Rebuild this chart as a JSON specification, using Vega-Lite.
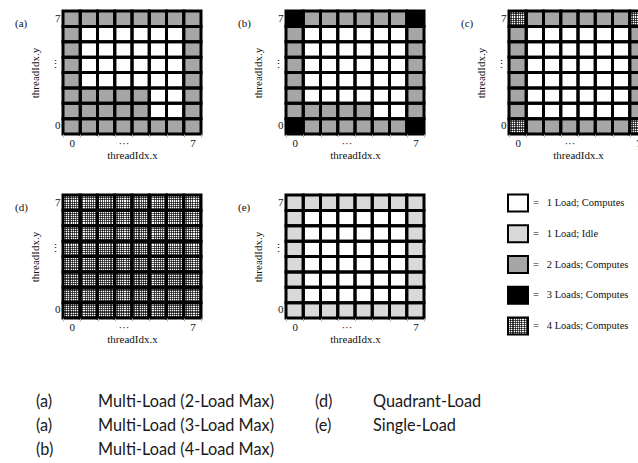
{
"$schema": "https://vega.github.io/schema/vega-lite/v6.json",
"autosize": {"type": "none"},
"padding": {"left": 63, "top": 11, "right": 575, "bottom": 452},
"background": "white",
"columns": 3,
"align": "none",
"bounds": "flush",
"spacing": {"row": 61, "column": 85},
"datasets": {
"cells": [
{"p":"a","x":0,"y":7,"t":"C"},{"p":"a","x":1,"y":7,"t":"C"},{"p":"a","x":2,"y":7,"t":"C"},{"p":"a","x":3,"y":7,"t":"C"},{"p":"a","x":4,"y":7,"t":"C"},{"p":"a","x":5,"y":7,"t":"C"},{"p":"a","x":6,"y":7,"t":"C"},{"p":"a","x":7,"y":7,"t":"C"},
{"p":"a","x":0,"y":6,"t":"C"},{"p":"a","x":1,"y":6,"t":"A"},{"p":"a","x":2,"y":6,"t":"A"},{"p":"a","x":3,"y":6,"t":"A"},{"p":"a","x":4,"y":6,"t":"A"},{"p":"a","x":5,"y":6,"t":"A"},{"p":"a","x":6,"y":6,"t":"A"},{"p":"a","x":7,"y":6,"t":"C"},
{"p":"a","x":0,"y":5,"t":"C"},{"p":"a","x":1,"y":5,"t":"A"},{"p":"a","x":2,"y":5,"t":"A"},{"p":"a","x":3,"y":5,"t":"A"},{"p":"a","x":4,"y":5,"t":"A"},{"p":"a","x":5,"y":5,"t":"A"},{"p":"a","x":6,"y":5,"t":"A"},{"p":"a","x":7,"y":5,"t":"C"},
{"p":"a","x":0,"y":4,"t":"C"},{"p":"a","x":1,"y":4,"t":"A"},{"p":"a","x":2,"y":4,"t":"A"},{"p":"a","x":3,"y":4,"t":"A"},{"p":"a","x":4,"y":4,"t":"A"},{"p":"a","x":5,"y":4,"t":"A"},{"p":"a","x":6,"y":4,"t":"A"},{"p":"a","x":7,"y":4,"t":"C"},
{"p":"a","x":0,"y":3,"t":"C"},{"p":"a","x":1,"y":3,"t":"A"},{"p":"a","x":2,"y":3,"t":"A"},{"p":"a","x":3,"y":3,"t":"A"},{"p":"a","x":4,"y":3,"t":"A"},{"p":"a","x":5,"y":3,"t":"A"},{"p":"a","x":6,"y":3,"t":"A"},{"p":"a","x":7,"y":3,"t":"C"},
{"p":"a","x":0,"y":2,"t":"C"},{"p":"a","x":1,"y":2,"t":"C"},{"p":"a","x":2,"y":2,"t":"C"},{"p":"a","x":3,"y":2,"t":"C"},{"p":"a","x":4,"y":2,"t":"C"},{"p":"a","x":5,"y":2,"t":"A"},{"p":"a","x":6,"y":2,"t":"A"},{"p":"a","x":7,"y":2,"t":"C"},
{"p":"a","x":0,"y":1,"t":"C"},{"p":"a","x":1,"y":1,"t":"C"},{"p":"a","x":2,"y":1,"t":"C"},{"p":"a","x":3,"y":1,"t":"C"},{"p":"a","x":4,"y":1,"t":"C"},{"p":"a","x":5,"y":1,"t":"A"},{"p":"a","x":6,"y":1,"t":"A"},{"p":"a","x":7,"y":1,"t":"C"},
{"p":"a","x":0,"y":0,"t":"C"},{"p":"a","x":1,"y":0,"t":"C"},{"p":"a","x":2,"y":0,"t":"C"},{"p":"a","x":3,"y":0,"t":"C"},{"p":"a","x":4,"y":0,"t":"C"},{"p":"a","x":5,"y":0,"t":"C"},{"p":"a","x":6,"y":0,"t":"C"},{"p":"a","x":7,"y":0,"t":"C"},

{"p":"b","x":0,"y":7,"t":"D"},{"p":"b","x":1,"y":7,"t":"C"},{"p":"b","x":2,"y":7,"t":"C"},{"p":"b","x":3,"y":7,"t":"C"},{"p":"b","x":4,"y":7,"t":"C"},{"p":"b","x":5,"y":7,"t":"C"},{"p":"b","x":6,"y":7,"t":"C"},{"p":"b","x":7,"y":7,"t":"D"},
{"p":"b","x":0,"y":6,"t":"C"},{"p":"b","x":1,"y":6,"t":"A"},{"p":"b","x":2,"y":6,"t":"A"},{"p":"b","x":3,"y":6,"t":"A"},{"p":"b","x":4,"y":6,"t":"A"},{"p":"b","x":5,"y":6,"t":"A"},{"p":"b","x":6,"y":6,"t":"A"},{"p":"b","x":7,"y":6,"t":"C"},
{"p":"b","x":0,"y":5,"t":"C"},{"p":"b","x":1,"y":5,"t":"A"},{"p":"b","x":2,"y":5,"t":"A"},{"p":"b","x":3,"y":5,"t":"A"},{"p":"b","x":4,"y":5,"t":"A"},{"p":"b","x":5,"y":5,"t":"A"},{"p":"b","x":6,"y":5,"t":"A"},{"p":"b","x":7,"y":5,"t":"C"},
{"p":"b","x":0,"y":4,"t":"C"},{"p":"b","x":1,"y":4,"t":"A"},{"p":"b","x":2,"y":4,"t":"A"},{"p":"b","x":3,"y":4,"t":"A"},{"p":"b","x":4,"y":4,"t":"A"},{"p":"b","x":5,"y":4,"t":"A"},{"p":"b","x":6,"y":4,"t":"A"},{"p":"b","x":7,"y":4,"t":"C"},
{"p":"b","x":0,"y":3,"t":"C"},{"p":"b","x":1,"y":3,"t":"A"},{"p":"b","x":2,"y":3,"t":"A"},{"p":"b","x":3,"y":3,"t":"A"},{"p":"b","x":4,"y":3,"t":"A"},{"p":"b","x":5,"y":3,"t":"A"},{"p":"b","x":6,"y":3,"t":"A"},{"p":"b","x":7,"y":3,"t":"C"},
{"p":"b","x":0,"y":2,"t":"C"},{"p":"b","x":1,"y":2,"t":"A"},{"p":"b","x":2,"y":2,"t":"A"},{"p":"b","x":3,"y":2,"t":"A"},{"p":"b","x":4,"y":2,"t":"A"},{"p":"b","x":5,"y":2,"t":"A"},{"p":"b","x":6,"y":2,"t":"A"},{"p":"b","x":7,"y":2,"t":"C"},
{"p":"b","x":0,"y":1,"t":"C"},{"p":"b","x":1,"y":1,"t":"C"},{"p":"b","x":2,"y":1,"t":"C"},{"p":"b","x":3,"y":1,"t":"C"},{"p":"b","x":4,"y":1,"t":"C"},{"p":"b","x":5,"y":1,"t":"A"},{"p":"b","x":6,"y":1,"t":"A"},{"p":"b","x":7,"y":1,"t":"C"},
{"p":"b","x":0,"y":0,"t":"D"},{"p":"b","x":1,"y":0,"t":"C"},{"p":"b","x":2,"y":0,"t":"C"},{"p":"b","x":3,"y":0,"t":"C"},{"p":"b","x":4,"y":0,"t":"C"},{"p":"b","x":5,"y":0,"t":"C"},{"p":"b","x":6,"y":0,"t":"C"},{"p":"b","x":7,"y":0,"t":"D"},

{"p":"c","x":0,"y":7,"t":"E"},{"p":"c","x":1,"y":7,"t":"C"},{"p":"c","x":2,"y":7,"t":"C"},{"p":"c","x":3,"y":7,"t":"C"},{"p":"c","x":4,"y":7,"t":"C"},{"p":"c","x":5,"y":7,"t":"C"},{"p":"c","x":6,"y":7,"t":"C"},{"p":"c","x":7,"y":7,"t":"E"},
{"p":"c","x":0,"y":6,"t":"C"},{"p":"c","x":1,"y":6,"t":"A"},{"p":"c","x":2,"y":6,"t":"A"},{"p":"c","x":3,"y":6,"t":"A"},{"p":"c","x":4,"y":6,"t":"A"},{"p":"c","x":5,"y":6,"t":"A"},{"p":"c","x":6,"y":6,"t":"A"},{"p":"c","x":7,"y":6,"t":"C"},
{"p":"c","x":0,"y":5,"t":"C"},{"p":"c","x":1,"y":5,"t":"A"},{"p":"c","x":2,"y":5,"t":"A"},{"p":"c","x":3,"y":5,"t":"A"},{"p":"c","x":4,"y":5,"t":"A"},{"p":"c","x":5,"y":5,"t":"A"},{"p":"c","x":6,"y":5,"t":"A"},{"p":"c","x":7,"y":5,"t":"C"},
{"p":"c","x":0,"y":4,"t":"C"},{"p":"c","x":1,"y":4,"t":"A"},{"p":"c","x":2,"y":4,"t":"A"},{"p":"c","x":3,"y":4,"t":"A"},{"p":"c","x":4,"y":4,"t":"A"},{"p":"c","x":5,"y":4,"t":"A"},{"p":"c","x":6,"y":4,"t":"A"},{"p":"c","x":7,"y":4,"t":"C"},
{"p":"c","x":0,"y":3,"t":"C"},{"p":"c","x":1,"y":3,"t":"A"},{"p":"c","x":2,"y":3,"t":"A"},{"p":"c","x":3,"y":3,"t":"A"},{"p":"c","x":4,"y":3,"t":"A"},{"p":"c","x":5,"y":3,"t":"A"},{"p":"c","x":6,"y":3,"t":"A"},{"p":"c","x":7,"y":3,"t":"C"},
{"p":"c","x":0,"y":2,"t":"C"},{"p":"c","x":1,"y":2,"t":"A"},{"p":"c","x":2,"y":2,"t":"A"},{"p":"c","x":3,"y":2,"t":"A"},{"p":"c","x":4,"y":2,"t":"A"},{"p":"c","x":5,"y":2,"t":"A"},{"p":"c","x":6,"y":2,"t":"A"},{"p":"c","x":7,"y":2,"t":"C"},
{"p":"c","x":0,"y":1,"t":"C"},{"p":"c","x":1,"y":1,"t":"A"},{"p":"c","x":2,"y":1,"t":"A"},{"p":"c","x":3,"y":1,"t":"A"},{"p":"c","x":4,"y":1,"t":"A"},{"p":"c","x":5,"y":1,"t":"A"},{"p":"c","x":6,"y":1,"t":"A"},{"p":"c","x":7,"y":1,"t":"C"},
{"p":"c","x":0,"y":0,"t":"E"},{"p":"c","x":1,"y":0,"t":"C"},{"p":"c","x":2,"y":0,"t":"C"},{"p":"c","x":3,"y":0,"t":"C"},{"p":"c","x":4,"y":0,"t":"C"},{"p":"c","x":5,"y":0,"t":"C"},{"p":"c","x":6,"y":0,"t":"C"},{"p":"c","x":7,"y":0,"t":"E"},

{"p":"d","x":0,"y":7,"t":"E"},{"p":"d","x":1,"y":7,"t":"E"},{"p":"d","x":2,"y":7,"t":"E"},{"p":"d","x":3,"y":7,"t":"E"},{"p":"d","x":4,"y":7,"t":"E"},{"p":"d","x":5,"y":7,"t":"E"},{"p":"d","x":6,"y":7,"t":"E"},{"p":"d","x":7,"y":7,"t":"E"},
{"p":"d","x":0,"y":6,"t":"E"},{"p":"d","x":1,"y":6,"t":"E"},{"p":"d","x":2,"y":6,"t":"E"},{"p":"d","x":3,"y":6,"t":"E"},{"p":"d","x":4,"y":6,"t":"E"},{"p":"d","x":5,"y":6,"t":"E"},{"p":"d","x":6,"y":6,"t":"E"},{"p":"d","x":7,"y":6,"t":"E"},
{"p":"d","x":0,"y":5,"t":"E"},{"p":"d","x":1,"y":5,"t":"E"},{"p":"d","x":2,"y":5,"t":"E"},{"p":"d","x":3,"y":5,"t":"E"},{"p":"d","x":4,"y":5,"t":"E"},{"p":"d","x":5,"y":5,"t":"E"},{"p":"d","x":6,"y":5,"t":"E"},{"p":"d","x":7,"y":5,"t":"E"},
{"p":"d","x":0,"y":4,"t":"E"},{"p":"d","x":1,"y":4,"t":"E"},{"p":"d","x":2,"y":4,"t":"E"},{"p":"d","x":3,"y":4,"t":"E"},{"p":"d","x":4,"y":4,"t":"E"},{"p":"d","x":5,"y":4,"t":"E"},{"p":"d","x":6,"y":4,"t":"E"},{"p":"d","x":7,"y":4,"t":"E"},
{"p":"d","x":0,"y":3,"t":"E"},{"p":"d","x":1,"y":3,"t":"E"},{"p":"d","x":2,"y":3,"t":"E"},{"p":"d","x":3,"y":3,"t":"E"},{"p":"d","x":4,"y":3,"t":"E"},{"p":"d","x":5,"y":3,"t":"E"},{"p":"d","x":6,"y":3,"t":"E"},{"p":"d","x":7,"y":3,"t":"E"},
{"p":"d","x":0,"y":2,"t":"E"},{"p":"d","x":1,"y":2,"t":"E"},{"p":"d","x":2,"y":2,"t":"E"},{"p":"d","x":3,"y":2,"t":"E"},{"p":"d","x":4,"y":2,"t":"E"},{"p":"d","x":5,"y":2,"t":"E"},{"p":"d","x":6,"y":2,"t":"E"},{"p":"d","x":7,"y":2,"t":"E"},
{"p":"d","x":0,"y":1,"t":"E"},{"p":"d","x":1,"y":1,"t":"E"},{"p":"d","x":2,"y":1,"t":"E"},{"p":"d","x":3,"y":1,"t":"E"},{"p":"d","x":4,"y":1,"t":"E"},{"p":"d","x":5,"y":1,"t":"E"},{"p":"d","x":6,"y":1,"t":"E"},{"p":"d","x":7,"y":1,"t":"E"},
{"p":"d","x":0,"y":0,"t":"E"},{"p":"d","x":1,"y":0,"t":"E"},{"p":"d","x":2,"y":0,"t":"E"},{"p":"d","x":3,"y":0,"t":"E"},{"p":"d","x":4,"y":0,"t":"E"},{"p":"d","x":5,"y":0,"t":"E"},{"p":"d","x":6,"y":0,"t":"E"},{"p":"d","x":7,"y":0,"t":"E"},

{"p":"e","x":0,"y":7,"t":"B"},{"p":"e","x":1,"y":7,"t":"B"},{"p":"e","x":2,"y":7,"t":"B"},{"p":"e","x":3,"y":7,"t":"B"},{"p":"e","x":4,"y":7,"t":"B"},{"p":"e","x":5,"y":7,"t":"B"},{"p":"e","x":6,"y":7,"t":"B"},{"p":"e","x":7,"y":7,"t":"B"},
{"p":"e","x":0,"y":6,"t":"B"},{"p":"e","x":1,"y":6,"t":"A"},{"p":"e","x":2,"y":6,"t":"A"},{"p":"e","x":3,"y":6,"t":"A"},{"p":"e","x":4,"y":6,"t":"A"},{"p":"e","x":5,"y":6,"t":"A"},{"p":"e","x":6,"y":6,"t":"A"},{"p":"e","x":7,"y":6,"t":"B"},
{"p":"e","x":0,"y":5,"t":"B"},{"p":"e","x":1,"y":5,"t":"A"},{"p":"e","x":2,"y":5,"t":"A"},{"p":"e","x":3,"y":5,"t":"A"},{"p":"e","x":4,"y":5,"t":"A"},{"p":"e","x":5,"y":5,"t":"A"},{"p":"e","x":6,"y":5,"t":"A"},{"p":"e","x":7,"y":5,"t":"B"},
{"p":"e","x":0,"y":4,"t":"B"},{"p":"e","x":1,"y":4,"t":"A"},{"p":"e","x":2,"y":4,"t":"A"},{"p":"e","x":3,"y":4,"t":"A"},{"p":"e","x":4,"y":4,"t":"A"},{"p":"e","x":5,"y":4,"t":"A"},{"p":"e","x":6,"y":4,"t":"A"},{"p":"e","x":7,"y":4,"t":"B"},
{"p":"e","x":0,"y":3,"t":"B"},{"p":"e","x":1,"y":3,"t":"A"},{"p":"e","x":2,"y":3,"t":"A"},{"p":"e","x":3,"y":3,"t":"A"},{"p":"e","x":4,"y":3,"t":"A"},{"p":"e","x":5,"y":3,"t":"A"},{"p":"e","x":6,"y":3,"t":"A"},{"p":"e","x":7,"y":3,"t":"B"},
{"p":"e","x":0,"y":2,"t":"B"},{"p":"e","x":1,"y":2,"t":"A"},{"p":"e","x":2,"y":2,"t":"A"},{"p":"e","x":3,"y":2,"t":"A"},{"p":"e","x":4,"y":2,"t":"A"},{"p":"e","x":5,"y":2,"t":"A"},{"p":"e","x":6,"y":2,"t":"A"},{"p":"e","x":7,"y":2,"t":"B"},
{"p":"e","x":0,"y":1,"t":"B"},{"p":"e","x":1,"y":1,"t":"A"},{"p":"e","x":2,"y":1,"t":"A"},{"p":"e","x":3,"y":1,"t":"A"},{"p":"e","x":4,"y":1,"t":"A"},{"p":"e","x":5,"y":1,"t":"A"},{"p":"e","x":6,"y":1,"t":"A"},{"p":"e","x":7,"y":1,"t":"B"},
{"p":"e","x":0,"y":0,"t":"B"},{"p":"e","x":1,"y":0,"t":"B"},{"p":"e","x":2,"y":0,"t":"B"},{"p":"e","x":3,"y":0,"t":"B"},{"p":"e","x":4,"y":0,"t":"B"},{"p":"e","x":5,"y":0,"t":"B"},{"p":"e","x":6,"y":0,"t":"B"},{"p":"e","x":7,"y":0,"t":"B"}
],
"legend": [
{"k":1,"t":"A","label":"=\u00a0\u00a0\u00a01 Load; Computes"},
{"k":2,"t":"B","label":"=\u00a0\u00a0\u00a01 Load; Idle"},
{"k":3,"t":"C","label":"=\u00a0\u00a0\u00a02 Loads; Computes"},
{"k":4,"t":"D","label":"=\u00a0\u00a0\u00a03 Loads; Computes"},
{"k":5,"t":"E","label":"=\u00a0\u00a0\u00a04 Loads; Computes"}
],
"caption": [
{"side":"L","line":1,"tag":"(a)","desc":"Multi-Load (2-Load Max)"},
{"side":"L","line":2,"tag":"(a)","desc":"Multi-Load (3-Load Max)"},
{"side":"L","line":3,"tag":"(b)","desc":"Multi-Load (4-Load Max)"},
{"side":"R","line":1,"tag":"(d)","desc":"Quadrant-Load"},
{"side":"R","line":2,"tag":"(e)","desc":"Single-Load"}
]
},
"concat": [
{
"data": {"name": "cells"}, "width": 138, "height": 123,
"title": {"text": "(a)"},
"transform": [{"filter": "datum.p == 'a'"}],
"encoding": {
"x": {"field": "x", "type": "ordinal", "scale": {"paddingInner": 0, "paddingOuter": 0}, "axis": {"title": "threadIdx.x", "labelAngle": 0, "labelExpr": "datum.value == 0 ? '0' : datum.value == 7 ? '7' : datum.value == 3 ? '···' : ''", "tickBand": "extent", "tickSize": 3, "tickColor": "#b5b5b5", "domain": false, "labelPadding": 0, "titlePadding": 1, "encode": {"labels": {"update": {"dx": {"signal": "datum.value == 3 ? 8.6 : 0"}}}}}},
"y": {"field": "y", "type": "ordinal", "sort": "descending", "scale": {"paddingInner": 0, "paddingOuter": 0}, "axis": {"title": "threadIdx.y", "labelExpr": "datum.value == 0 ? '0' : datum.value == 7 ? '7' : datum.value == 4 ? '⋮' : ''", "ticks": false, "tickSize": 0, "domain": false, "labelPadding": 3, "titlePadding": 9, "encode": {"labels": {"update": {"dy": {"signal": "datum.value == 4 ? 7.7 : 0"}}}}}}
},
"layer": [
{"mark": {"type": "rect"}, "encoding": {"fill": {"field": "t", "type": "nominal", "scale": {"domain": ["A","B","C","D","E"], "range": ["#ffffff","#d9d9d9","#a6a6a6","#000000","#ffffff"]}, "legend": null}}},
{"mark": {"type": "rect", "fillOpacity": 0, "stroke": "#000", "strokeWidth": 3}}
]
},
{
"data": {"name": "cells"}, "width": 138, "height": 123,
"title": {"text": "(b)"},
"transform": [{"filter": "datum.p == 'b'"}],
"encoding": {
"x": {"field": "x", "type": "ordinal", "scale": {"paddingInner": 0, "paddingOuter": 0}, "axis": {"title": "threadIdx.x", "labelAngle": 0, "labelExpr": "datum.value == 0 ? '0' : datum.value == 7 ? '7' : datum.value == 3 ? '···' : ''", "tickBand": "extent", "tickSize": 3, "tickColor": "#b5b5b5", "domain": false, "labelPadding": 0, "titlePadding": 1, "encode": {"labels": {"update": {"dx": {"signal": "datum.value == 3 ? 8.6 : 0"}}}}}},
"y": {"field": "y", "type": "ordinal", "sort": "descending", "scale": {"paddingInner": 0, "paddingOuter": 0}, "axis": {"title": "threadIdx.y", "labelExpr": "datum.value == 0 ? '0' : datum.value == 7 ? '7' : datum.value == 4 ? '⋮' : ''", "ticks": false, "tickSize": 0, "domain": false, "labelPadding": 3, "titlePadding": 9, "encode": {"labels": {"update": {"dy": {"signal": "datum.value == 4 ? 7.7 : 0"}}}}}}
},
"layer": [
{"mark": {"type": "rect"}, "encoding": {"fill": {"field": "t", "type": "nominal", "scale": {"domain": ["A","B","C","D","E"], "range": ["#ffffff","#d9d9d9","#a6a6a6","#000000","#ffffff"]}, "legend": null}}},
{"mark": {"type": "rect", "fillOpacity": 0, "stroke": "#000", "strokeWidth": 3}}
]
},
{
"data": {"name": "cells"}, "width": 138, "height": 123,
"title": {"text": "(c)"},
"transform": [{"filter": "datum.p == 'c'"}],
"encoding": {
"x": {"field": "x", "type": "ordinal", "scale": {"paddingInner": 0, "paddingOuter": 0}, "axis": {"title": "threadIdx.x", "labelAngle": 0, "labelExpr": "datum.value == 0 ? '0' : datum.value == 7 ? '7' : datum.value == 3 ? '···' : ''", "tickBand": "extent", "tickSize": 3, "tickColor": "#b5b5b5", "domain": false, "labelPadding": 0, "titlePadding": 1, "encode": {"labels": {"update": {"dx": {"signal": "datum.value == 3 ? 8.6 : 0"}}}}}},
"y": {"field": "y", "type": "ordinal", "sort": "descending", "scale": {"paddingInner": 0, "paddingOuter": 0}, "axis": {"title": "threadIdx.y", "labelExpr": "datum.value == 0 ? '0' : datum.value == 7 ? '7' : datum.value == 4 ? '⋮' : ''", "ticks": false, "tickSize": 0, "domain": false, "labelPadding": 3, "titlePadding": 9, "encode": {"labels": {"update": {"dy": {"signal": "datum.value == 4 ? 7.7 : 0"}}}}}}
},
"layer": [
{"mark": {"type": "rect"}, "encoding": {"fill": {"field": "t", "type": "nominal", "scale": {"domain": ["A","B","C","D","E"], "range": ["#ffffff","#d9d9d9","#a6a6a6","#000000","#ffffff"]}, "legend": null}}},
{"transform": [{"filter": "datum.t == 'E'"}], "mark": {"type": "rect", "fill": {"gradient": "linear", "x1": 0, "x2": 0, "y1": 0, "y2": 1, "stops": [{"offset":0,"color":"rgba(0,0,0,0.65)"},{"offset":0.0714,"color":"rgba(0,0,0,0.65)"},{"offset":0.0714,"color":"rgba(0,0,0,0)"},{"offset":0.1429,"color":"rgba(0,0,0,0)"},{"offset":0.1429,"color":"rgba(0,0,0,0.65)"},{"offset":0.2143,"color":"rgba(0,0,0,0.65)"},{"offset":0.2143,"color":"rgba(0,0,0,0)"},{"offset":0.2857,"color":"rgba(0,0,0,0)"},{"offset":0.2857,"color":"rgba(0,0,0,0.65)"},{"offset":0.3571,"color":"rgba(0,0,0,0.65)"},{"offset":0.3571,"color":"rgba(0,0,0,0)"},{"offset":0.4286,"color":"rgba(0,0,0,0)"},{"offset":0.4286,"color":"rgba(0,0,0,0.65)"},{"offset":0.5,"color":"rgba(0,0,0,0.65)"},{"offset":0.5,"color":"rgba(0,0,0,0)"},{"offset":0.5714,"color":"rgba(0,0,0,0)"},{"offset":0.5714,"color":"rgba(0,0,0,0.65)"},{"offset":0.6429,"color":"rgba(0,0,0,0.65)"},{"offset":0.6429,"color":"rgba(0,0,0,0)"},{"offset":0.7143,"color":"rgba(0,0,0,0)"},{"offset":0.7143,"color":"rgba(0,0,0,0.65)"},{"offset":0.7857,"color":"rgba(0,0,0,0.65)"},{"offset":0.7857,"color":"rgba(0,0,0,0)"},{"offset":0.8571,"color":"rgba(0,0,0,0)"},{"offset":0.8571,"color":"rgba(0,0,0,0.65)"},{"offset":0.9286,"color":"rgba(0,0,0,0.65)"},{"offset":0.9286,"color":"rgba(0,0,0,0)"},{"offset":1,"color":"rgba(0,0,0,0)"}]}}},
{"transform": [{"filter": "datum.t == 'E'"}], "mark": {"type": "rect", "fill": {"gradient": "linear", "x1": 0, "x2": 1, "y1": 0, "y2": 0, "stops": [{"offset":0,"color":"rgba(0,0,0,0.65)"},{"offset":0.0625,"color":"rgba(0,0,0,0.65)"},{"offset":0.0625,"color":"rgba(0,0,0,0)"},{"offset":0.125,"color":"rgba(0,0,0,0)"},{"offset":0.125,"color":"rgba(0,0,0,0.65)"},{"offset":0.1875,"color":"rgba(0,0,0,0.65)"},{"offset":0.1875,"color":"rgba(0,0,0,0)"},{"offset":0.25,"color":"rgba(0,0,0,0)"},{"offset":0.25,"color":"rgba(0,0,0,0.65)"},{"offset":0.3125,"color":"rgba(0,0,0,0.65)"},{"offset":0.3125,"color":"rgba(0,0,0,0)"},{"offset":0.375,"color":"rgba(0,0,0,0)"},{"offset":0.375,"color":"rgba(0,0,0,0.65)"},{"offset":0.4375,"color":"rgba(0,0,0,0.65)"},{"offset":0.4375,"color":"rgba(0,0,0,0)"},{"offset":0.5,"color":"rgba(0,0,0,0)"},{"offset":0.5,"color":"rgba(0,0,0,0.65)"},{"offset":0.5625,"color":"rgba(0,0,0,0.65)"},{"offset":0.5625,"color":"rgba(0,0,0,0)"},{"offset":0.625,"color":"rgba(0,0,0,0)"},{"offset":0.625,"color":"rgba(0,0,0,0.65)"},{"offset":0.6875,"color":"rgba(0,0,0,0.65)"},{"offset":0.6875,"color":"rgba(0,0,0,0)"},{"offset":0.75,"color":"rgba(0,0,0,0)"},{"offset":0.75,"color":"rgba(0,0,0,0.65)"},{"offset":0.8125,"color":"rgba(0,0,0,0.65)"},{"offset":0.8125,"color":"rgba(0,0,0,0)"},{"offset":0.875,"color":"rgba(0,0,0,0)"},{"offset":0.875,"color":"rgba(0,0,0,0.65)"},{"offset":0.9375,"color":"rgba(0,0,0,0.65)"},{"offset":0.9375,"color":"rgba(0,0,0,0)"},{"offset":1,"color":"rgba(0,0,0,0)"}]}}},
{"mark": {"type": "rect", "fillOpacity": 0, "stroke": "#000", "strokeWidth": 3}}
]
},
{
"data": {"name": "cells"}, "width": 138, "height": 123,
"title": {"text": "(d)"},
"transform": [{"filter": "datum.p == 'd'"}],
"encoding": {
"x": {"field": "x", "type": "ordinal", "scale": {"paddingInner": 0, "paddingOuter": 0}, "axis": {"title": "threadIdx.x", "labelAngle": 0, "labelExpr": "datum.value == 0 ? '0' : datum.value == 7 ? '7' : datum.value == 3 ? '···' : ''", "tickBand": "extent", "tickSize": 3, "tickColor": "#b5b5b5", "domain": false, "labelPadding": 0, "titlePadding": 1, "encode": {"labels": {"update": {"dx": {"signal": "datum.value == 3 ? 8.6 : 0"}}}}}},
"y": {"field": "y", "type": "ordinal", "sort": "descending", "scale": {"paddingInner": 0, "paddingOuter": 0}, "axis": {"title": "threadIdx.y", "labelExpr": "datum.value == 0 ? '0' : datum.value == 7 ? '7' : datum.value == 4 ? '⋮' : ''", "ticks": false, "tickSize": 0, "domain": false, "labelPadding": 3, "titlePadding": 9, "encode": {"labels": {"update": {"dy": {"signal": "datum.value == 4 ? 7.7 : 0"}}}}}}
},
"layer": [
{"mark": {"type": "rect"}, "encoding": {"fill": {"field": "t", "type": "nominal", "scale": {"domain": ["A","B","C","D","E"], "range": ["#ffffff","#d9d9d9","#a6a6a6","#000000","#ffffff"]}, "legend": null}}},
{"transform": [{"filter": "datum.t == 'E'"}], "mark": {"type": "rect", "fill": {"gradient": "linear", "x1": 0, "x2": 0, "y1": 0, "y2": 1, "stops": [{"offset":0,"color":"rgba(0,0,0,0.65)"},{"offset":0.0714,"color":"rgba(0,0,0,0.65)"},{"offset":0.0714,"color":"rgba(0,0,0,0)"},{"offset":0.1429,"color":"rgba(0,0,0,0)"},{"offset":0.1429,"color":"rgba(0,0,0,0.65)"},{"offset":0.2143,"color":"rgba(0,0,0,0.65)"},{"offset":0.2143,"color":"rgba(0,0,0,0)"},{"offset":0.2857,"color":"rgba(0,0,0,0)"},{"offset":0.2857,"color":"rgba(0,0,0,0.65)"},{"offset":0.3571,"color":"rgba(0,0,0,0.65)"},{"offset":0.3571,"color":"rgba(0,0,0,0)"},{"offset":0.4286,"color":"rgba(0,0,0,0)"},{"offset":0.4286,"color":"rgba(0,0,0,0.65)"},{"offset":0.5,"color":"rgba(0,0,0,0.65)"},{"offset":0.5,"color":"rgba(0,0,0,0)"},{"offset":0.5714,"color":"rgba(0,0,0,0)"},{"offset":0.5714,"color":"rgba(0,0,0,0.65)"},{"offset":0.6429,"color":"rgba(0,0,0,0.65)"},{"offset":0.6429,"color":"rgba(0,0,0,0)"},{"offset":0.7143,"color":"rgba(0,0,0,0)"},{"offset":0.7143,"color":"rgba(0,0,0,0.65)"},{"offset":0.7857,"color":"rgba(0,0,0,0.65)"},{"offset":0.7857,"color":"rgba(0,0,0,0)"},{"offset":0.8571,"color":"rgba(0,0,0,0)"},{"offset":0.8571,"color":"rgba(0,0,0,0.65)"},{"offset":0.9286,"color":"rgba(0,0,0,0.65)"},{"offset":0.9286,"color":"rgba(0,0,0,0)"},{"offset":1,"color":"rgba(0,0,0,0)"}]}}},
{"transform": [{"filter": "datum.t == 'E'"}], "mark": {"type": "rect", "fill": {"gradient": "linear", "x1": 0, "x2": 1, "y1": 0, "y2": 0, "stops": [{"offset":0,"color":"rgba(0,0,0,0.65)"},{"offset":0.0625,"color":"rgba(0,0,0,0.65)"},{"offset":0.0625,"color":"rgba(0,0,0,0)"},{"offset":0.125,"color":"rgba(0,0,0,0)"},{"offset":0.125,"color":"rgba(0,0,0,0.65)"},{"offset":0.1875,"color":"rgba(0,0,0,0.65)"},{"offset":0.1875,"color":"rgba(0,0,0,0)"},{"offset":0.25,"color":"rgba(0,0,0,0)"},{"offset":0.25,"color":"rgba(0,0,0,0.65)"},{"offset":0.3125,"color":"rgba(0,0,0,0.65)"},{"offset":0.3125,"color":"rgba(0,0,0,0)"},{"offset":0.375,"color":"rgba(0,0,0,0)"},{"offset":0.375,"color":"rgba(0,0,0,0.65)"},{"offset":0.4375,"color":"rgba(0,0,0,0.65)"},{"offset":0.4375,"color":"rgba(0,0,0,0)"},{"offset":0.5,"color":"rgba(0,0,0,0)"},{"offset":0.5,"color":"rgba(0,0,0,0.65)"},{"offset":0.5625,"color":"rgba(0,0,0,0.65)"},{"offset":0.5625,"color":"rgba(0,0,0,0)"},{"offset":0.625,"color":"rgba(0,0,0,0)"},{"offset":0.625,"color":"rgba(0,0,0,0.65)"},{"offset":0.6875,"color":"rgba(0,0,0,0.65)"},{"offset":0.6875,"color":"rgba(0,0,0,0)"},{"offset":0.75,"color":"rgba(0,0,0,0)"},{"offset":0.75,"color":"rgba(0,0,0,0.65)"},{"offset":0.8125,"color":"rgba(0,0,0,0.65)"},{"offset":0.8125,"color":"rgba(0,0,0,0)"},{"offset":0.875,"color":"rgba(0,0,0,0)"},{"offset":0.875,"color":"rgba(0,0,0,0.65)"},{"offset":0.9375,"color":"rgba(0,0,0,0.65)"},{"offset":0.9375,"color":"rgba(0,0,0,0)"},{"offset":1,"color":"rgba(0,0,0,0)"}]}}},
{"mark": {"type": "rect", "fillOpacity": 0, "stroke": "#000", "strokeWidth": 3}}
]
},
{
"data": {"name": "cells"}, "width": 138, "height": 123,
"title": {"text": "(e)"},
"transform": [{"filter": "datum.p == 'e'"}],
"encoding": {
"x": {"field": "x", "type": "ordinal", "scale": {"paddingInner": 0, "paddingOuter": 0}, "axis": {"title": "threadIdx.x", "labelAngle": 0, "labelExpr": "datum.value == 0 ? '0' : datum.value == 7 ? '7' : datum.value == 3 ? '···' : ''", "tickBand": "extent", "tickSize": 3, "tickColor": "#b5b5b5", "domain": false, "labelPadding": 0, "titlePadding": 1, "encode": {"labels": {"update": {"dx": {"signal": "datum.value == 3 ? 8.6 : 0"}}}}}},
"y": {"field": "y", "type": "ordinal", "sort": "descending", "scale": {"paddingInner": 0, "paddingOuter": 0}, "axis": {"title": "threadIdx.y", "labelExpr": "datum.value == 0 ? '0' : datum.value == 7 ? '7' : datum.value == 4 ? '⋮' : ''", "ticks": false, "tickSize": 0, "domain": false, "labelPadding": 3, "titlePadding": 9, "encode": {"labels": {"update": {"dy": {"signal": "datum.value == 4 ? 7.7 : 0"}}}}}}
},
"layer": [
{"mark": {"type": "rect"}, "encoding": {"fill": {"field": "t", "type": "nominal", "scale": {"domain": ["A","B","C","D","E"], "range": ["#ffffff","#d9d9d9","#a6a6a6","#000000","#ffffff"]}, "legend": null}}},
{"mark": {"type": "rect", "fillOpacity": 0, "stroke": "#000", "strokeWidth": 3}}
]
},
{
"data": {"name": "legend"}, "width": 18, "height": 139,
"encoding": {"y": {"field": "k", "type": "ordinal", "scale": {"type": "point", "padding": 0.26}, "axis": null}},
"layer": [
{"mark": {"type": "point", "shape": "M-1,-0.85H1V0.85H-1Z", "size": 400, "filled": true, "opacity": 1, "strokeWidth": 0}, "encoding": {"fill": {"field": "t", "type": "nominal", "scale": {"domain": ["A","B","C","D","E"], "range": ["#ffffff","#d9d9d9","#a6a6a6","#000000","#ffffff"]}, "legend": null}}},
{"transform": [{"filter": "datum.t == 'E'"}], "mark": {"type": "point", "shape": "M-1,-0.85H1V0.85H-1Z", "size": 400, "filled": true, "opacity": 1, "strokeWidth": 0, "fill": {"gradient": "linear", "x1": 0, "x2": 0, "y1": 0, "y2": 1, "stops": [{"offset":0,"color":"rgba(0,0,0,0.65)"},{"offset":0.0625,"color":"rgba(0,0,0,0.65)"},{"offset":0.0625,"color":"rgba(0,0,0,0)"},{"offset":0.125,"color":"rgba(0,0,0,0)"},{"offset":0.125,"color":"rgba(0,0,0,0.65)"},{"offset":0.1875,"color":"rgba(0,0,0,0.65)"},{"offset":0.1875,"color":"rgba(0,0,0,0)"},{"offset":0.25,"color":"rgba(0,0,0,0)"},{"offset":0.25,"color":"rgba(0,0,0,0.65)"},{"offset":0.3125,"color":"rgba(0,0,0,0.65)"},{"offset":0.3125,"color":"rgba(0,0,0,0)"},{"offset":0.375,"color":"rgba(0,0,0,0)"},{"offset":0.375,"color":"rgba(0,0,0,0.65)"},{"offset":0.4375,"color":"rgba(0,0,0,0.65)"},{"offset":0.4375,"color":"rgba(0,0,0,0)"},{"offset":0.5,"color":"rgba(0,0,0,0)"},{"offset":0.5,"color":"rgba(0,0,0,0.65)"},{"offset":0.5625,"color":"rgba(0,0,0,0.65)"},{"offset":0.5625,"color":"rgba(0,0,0,0)"},{"offset":0.625,"color":"rgba(0,0,0,0)"},{"offset":0.625,"color":"rgba(0,0,0,0.65)"},{"offset":0.6875,"color":"rgba(0,0,0,0.65)"},{"offset":0.6875,"color":"rgba(0,0,0,0)"},{"offset":0.75,"color":"rgba(0,0,0,0)"},{"offset":0.75,"color":"rgba(0,0,0,0.65)"},{"offset":0.8125,"color":"rgba(0,0,0,0.65)"},{"offset":0.8125,"color":"rgba(0,0,0,0)"},{"offset":0.875,"color":"rgba(0,0,0,0)"},{"offset":0.875,"color":"rgba(0,0,0,0.65)"},{"offset":0.9375,"color":"rgba(0,0,0,0.65)"},{"offset":0.9375,"color":"rgba(0,0,0,0)"},{"offset":1,"color":"rgba(0,0,0,0)"}]}}},
{"transform": [{"filter": "datum.t == 'E'"}], "mark": {"type": "point", "shape": "M-1,-0.85H1V0.85H-1Z", "size": 400, "filled": true, "opacity": 1, "strokeWidth": 0, "fill": {"gradient": "linear", "x1": 0, "x2": 1, "y1": 0, "y2": 0, "stops": [{"offset":0,"color":"rgba(0,0,0,0.65)"},{"offset":0.0556,"color":"rgba(0,0,0,0.65)"},{"offset":0.0556,"color":"rgba(0,0,0,0)"},{"offset":0.1111,"color":"rgba(0,0,0,0)"},{"offset":0.1111,"color":"rgba(0,0,0,0.65)"},{"offset":0.1667,"color":"rgba(0,0,0,0.65)"},{"offset":0.1667,"color":"rgba(0,0,0,0)"},{"offset":0.2222,"color":"rgba(0,0,0,0)"},{"offset":0.2222,"color":"rgba(0,0,0,0.65)"},{"offset":0.2778,"color":"rgba(0,0,0,0.65)"},{"offset":0.2778,"color":"rgba(0,0,0,0)"},{"offset":0.3333,"color":"rgba(0,0,0,0)"},{"offset":0.3333,"color":"rgba(0,0,0,0.65)"},{"offset":0.3889,"color":"rgba(0,0,0,0.65)"},{"offset":0.3889,"color":"rgba(0,0,0,0)"},{"offset":0.4444,"color":"rgba(0,0,0,0)"},{"offset":0.4444,"color":"rgba(0,0,0,0.65)"},{"offset":0.5,"color":"rgba(0,0,0,0.65)"},{"offset":0.5,"color":"rgba(0,0,0,0)"},{"offset":0.5556,"color":"rgba(0,0,0,0)"},{"offset":0.5556,"color":"rgba(0,0,0,0.65)"},{"offset":0.6111,"color":"rgba(0,0,0,0.65)"},{"offset":0.6111,"color":"rgba(0,0,0,0)"},{"offset":0.6667,"color":"rgba(0,0,0,0)"},{"offset":0.6667,"color":"rgba(0,0,0,0.65)"},{"offset":0.7222,"color":"rgba(0,0,0,0.65)"},{"offset":0.7222,"color":"rgba(0,0,0,0)"},{"offset":0.7778,"color":"rgba(0,0,0,0)"},{"offset":0.7778,"color":"rgba(0,0,0,0.65)"},{"offset":0.8333,"color":"rgba(0,0,0,0.65)"},{"offset":0.8333,"color":"rgba(0,0,0,0)"},{"offset":0.8889,"color":"rgba(0,0,0,0)"},{"offset":0.8889,"color":"rgba(0,0,0,0.65)"},{"offset":0.9444,"color":"rgba(0,0,0,0.65)"},{"offset":0.9444,"color":"rgba(0,0,0,0)"},{"offset":1,"color":"rgba(0,0,0,0)"}]}}},
{"mark": {"type": "point", "shape": "M-1,-0.85H1V0.85H-1Z", "size": 400, "filled": false, "opacity": 1, "stroke": "#000", "strokeWidth": 2}},
{"mark": {"type": "text", "align": "left", "baseline": "middle", "dx": 15, "font": "Liberation Serif", "fontSize": 10.5, "color": "#111"}, "encoding": {"text": {"field": "label"}}}
]
},
{
"data": {"name": "caption"}, "width": 138, "height": 62,
"transform": [{"filter": "datum.side == 'L'"}],
"encoding": {
"y": {"field": "line", "type": "ordinal", "scale": {"type": "point", "padding": 0.29, "domain": [1, 2, 3]}, "axis": null}
},
"layer": [
{"mark": {"type": "text", "align": "left", "baseline": "middle", "dx": -96, "font": "Lato", "fontSize": 16.3, "color": "#1a1a1a"}, "encoding": {"text": {"field": "tag"}}},
{"mark": {"type": "text", "align": "left", "baseline": "middle", "dx": -34, "font": "Lato", "fontSize": 16.3, "color": "#1a1a1a"}, "encoding": {"text": {"field": "desc"}}}
]
},
{
"data": {"name": "caption"}, "width": 138, "height": 62,
"transform": [{"filter": "datum.side == 'R'"}],
"encoding": {
"y": {"field": "line", "type": "ordinal", "scale": {"type": "point", "padding": 0.29, "domain": [1, 2, 3]}, "axis": null}
},
"layer": [
{"mark": {"type": "text", "align": "left", "baseline": "middle", "dx": -40, "font": "Lato", "fontSize": 16.3, "color": "#1a1a1a"}, "encoding": {"text": {"field": "tag"}}},
{"mark": {"type": "text", "align": "left", "baseline": "middle", "dx": 18, "font": "Lato", "fontSize": 16.3, "color": "#1a1a1a"}, "encoding": {"text": {"field": "desc"}}}
]
}
],
"config": {
"view": {"stroke": null},
"font": "Liberation Serif",
"title": {"font": "Liberation Serif", "fontSize": 11, "fontWeight": "normal", "color": "#111", "anchor": "start", "frame": "group", "offset": 0, "baseline": "middle", "dx": -48, "dy": 23},
"axis": {"labelFont": "Liberation Serif", "titleFont": "Liberation Serif", "labelFontSize": 11, "titleFontSize": 11, "titleFontWeight": "normal", "labelColor": "#111", "titleColor": "#111"}
}
}
